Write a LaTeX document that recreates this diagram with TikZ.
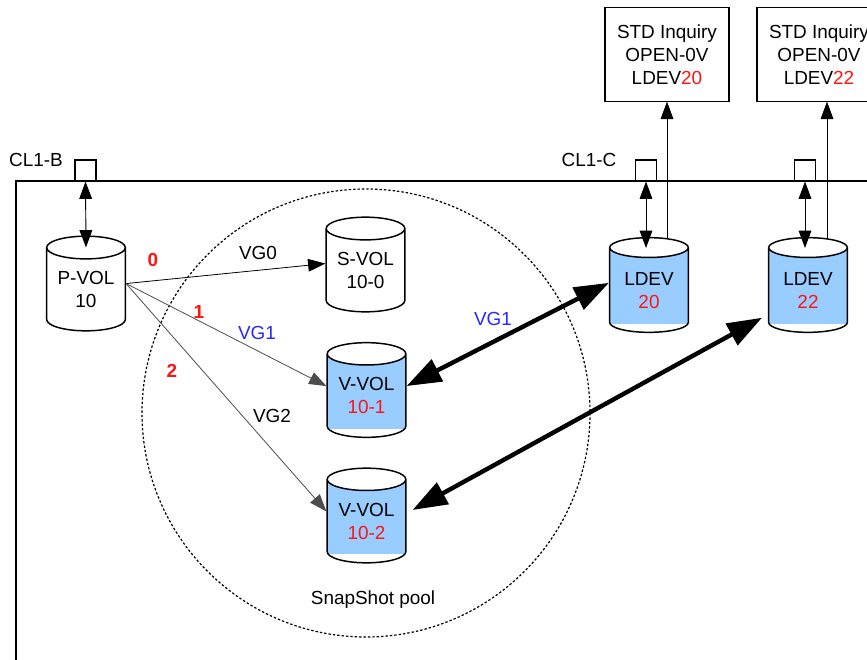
\documentclass[tikz,border=0pt]{standalone}
\usepackage{fontspec}
\setmainfont{Liberation Sans}
\usetikzlibrary{shapes.geometric,arrows.meta}
\definecolor{volblue}{RGB}{153,204,255}
\definecolor{numred}{RGB}{255,20,20}
\definecolor{vgblue}{RGB}{40,40,255}
\tikzset{
  vol/.style={cylinder, shape border rotate=90, aspect=0.4, draw, line width=1.1pt,
    minimum width=59pt, minimum height=71pt, align=center, inner sep=0pt,
    anchor=shape center},
  snapvol/.style={vol, cylinder uses custom fill, cylinder body fill=volblue,
    cylinder end fill=white,
    path picture={\fill[white] ([yshift=6.5pt]path picture bounding box.south west)
      rectangle (path picture bounding box.south east);}},
  port/.style={draw, line width=0.8pt, minimum size=15.75pt, inner sep=0pt},
  infobox/.style={draw, line width=0.8pt, minimum width=93pt, minimum height=70pt,
    align=center, inner sep=0pt},
  lbl/.style={inner sep=1pt},
  num/.style={inner sep=1pt, text=numred, font=\fontsize{14.2}{17.25}\selectfont\bfseries},
  link/.style={line width=0.6pt, -{Triangle[length=13pt,width=9.5pt]}},
  dbl/.style={line width=0.7pt, {Triangle[length=13pt,width=9.5pt]}-{Triangle[length=13pt,width=9.5pt]}},
  wide/.style={line width=3.3pt, {Triangle[length=26pt,width=18pt]}-{Triangle[length=26pt,width=18pt]}}
}
\begin{document}
\begin{tikzpicture}[x=0.75pt,y=-0.75pt,font=\fontsize{14.2}{17.25}\selectfont]
  \useasboundingbox (0,0) rectangle (867,660);

  % storage frame and pool
  \draw[line width=1.1pt] (16,675) -- (16,181) -- (890,181);
  \draw[line width=0.9pt, dash pattern=on 1.8pt off 1.5pt] (366,413) circle[radius=224];
  \node[lbl] (poolname) at (373,600) {SnapShot pool};

  % ports
  \node at (36,160) (cl1b) {CL1-B};
  \node at (589,160) (cl1c) {CL1-C};
  \node[port] (portB) at (85.5,170.5) {};
  \node[port] (portC1) at (646,170.5) {};
  \node[port] (portC2) at (805,170.5) {};

  % volumes
  \node[vol] (pvol) at (86,283.5) {P-VOL\\10};
  \node[vol] (svol) at (365.5,264.5) {S-VOL\\10-0};
  \node[snapvol] (vvol1) at (366.5,390) {V-VOL\\\textcolor{numred}{10-1}};
  \node[snapvol] (vvol2) at (366.5,515.5) {V-VOL\\\textcolor{numred}{10-2}};
  \node[snapvol] (ldev20) at (649,285) {LDEV\\\textcolor{numred}{20}};
  \node[snapvol] (ldev22) at (808,285) {LDEV\\\textcolor{numred}{22}};
  \coordinate (in20) at ([yshift=-8.25pt]ldev20.top);
  \coordinate (in22) at ([yshift=-8.25pt]ldev22.top);

  % inquiry boxes
  \node[infobox] (std20) at (667,54.5) {STD Inquiry\\OPEN-0V\\LDEV\textcolor{numred}{20}};
  \node[infobox] (std22) at (819,54.5) {STD Inquiry\\OPEN-0V\\LDEV\textcolor{numred}{22}};

  % host paths
  \draw[dbl] (portB.south) -- ([yshift=-9pt]pvol.top);
  \draw[dbl] (portC1.south) -- (portC1.south |- in20);
  \draw[dbl] (portC2.south) -- (portC2.south |- in22);
  \draw[link] ([xshift=13.5pt,yshift=-0.75pt]ldev20.top) -- (std20.south);
  \draw[link] ([xshift=14.25pt,yshift=-0.75pt]ldev22.top) -- ([xshift=14.25pt]ldev22.top |- std22.south);

  % virtual groups
  \coordinate (fan) at ([yshift=4.5pt]pvol.east);
  \draw[link] (fan) -- ([yshift=5.25pt]svol.west);
  \draw[link, draw=black!70] (fan) -- ([yshift=7.4pt]vvol1.west);
  \draw[link, draw=black!70] (fan) -- ([yshift=7.5pt]vvol2.west);
  \node[num] (n0) at (153,260) {0};
  \node[num] (n1) at (199,312) {1};
  \node[num] (n2) at (172,371) {2};
  \node[lbl] (vg0) at (258,253) {VG0};
  \node[lbl, text=vgblue] (vg1) at (257,333) {VG1};
  \node[lbl] (vg2) at (272,416) {VG2};

  % mapped LDEVs
  \draw[wide] ([yshift=7.4pt]vvol1.east) -- ([yshift=5.6pt]ldev20.west);
  \draw[wide] ([xshift=4.5pt,yshift=8.6pt]vvol2.east) -- ([xshift=-4.5pt,yshift=-20.6pt]ldev22.west);
  \node[lbl, text=vgblue] (vg1map) at (493,319) {VG1};
\end{tikzpicture}
\end{document}
